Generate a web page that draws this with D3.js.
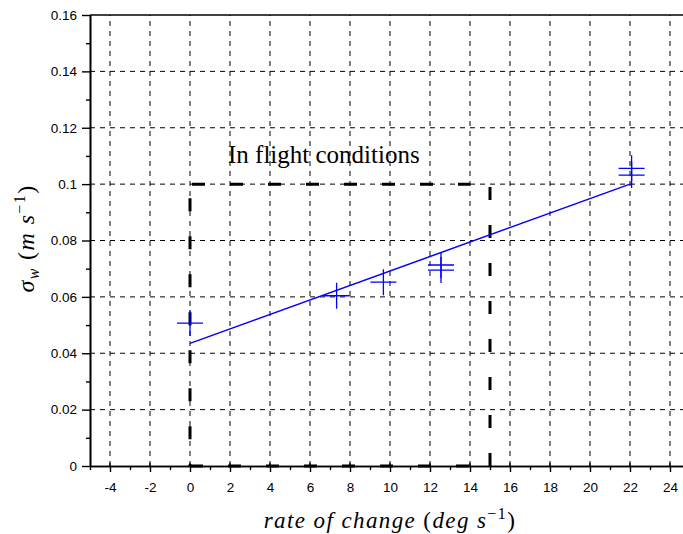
<!DOCTYPE html>
<html>
<head>
<meta charset="utf-8">
<script src="https://cdn.jsdelivr.net/npm/d3@7/dist/d3.min.js"></script>
<style>
  html, body { margin: 0; padding: 0; background: #fff; }
  svg { display: block; }
</style>
</head>
<body>
<svg id="chart" width="683" height="534"></svg>
<script>
// Measured turbulence intensity against rate of change
const rateOfChange = [0, 7.33, 9.67, 12.55, 12.55, 22.08, 22.08];
const sigmaW       = [0.0507, 0.0604, 0.0652, 0.0713, 0.0695, 0.1056, 0.1032];

// Linear fit through the measurements
const fitRate  = [0, 22];
const fitSigma = [0.0435, 0.1000];

// "In flight conditions" envelope
const envelopeRate  = [0, 14, 15];
const envelopeSigma = [0, 0.1];
const envelopeLabel = "In flight conditions";

// Axis ticks
const xTicks      = [-4, -2, 0, 2, 4, 6, 8, 10, 12, 14, 16, 18, 20, 22, 24];
const xTickLabels = ["-4", "-2", "0", "2", "4", "6", "8", "10", "12", "14", "16", "18", "20", "22", "24"];
const xMinorTicks = [-5, -3, -1, 1, 3, 5, 7, 9, 11, 13, 15, 17, 19, 21, 23];
const yTicks      = [0, 0.02, 0.04, 0.06, 0.08, 0.1, 0.12, 0.14, 0.16];
const yTickLabels = ["0", "0.02", "0.04", "0.06", "0.08", "0.1", "0.12", "0.14", "0.16"];
const yMinorTicks = [0.01, 0.03, 0.05, 0.07, 0.09, 0.11, 0.13, 0.15];

const svg = d3.select("#chart");
const plot = { left: 90, right: 690, top: 15, bottom: 466 };

const x = d3.scaleLinear().domain([-5, 25]).range([plot.left, plot.right]);
const y = d3.scaleLinear().domain([0, 0.16]).range([plot.bottom, plot.top]);

svg.append("rect").attr("width", 683).attr("height", 534).attr("fill", "#fff");

// Dashed grid
const grid = svg.append("g")
  .attr("stroke", "#000").attr("stroke-width", 1).attr("stroke-dasharray", "5,5");
grid.selectAll("line.vx").data(xTicks).join("line")
  .attr("x1", d => x(d)).attr("x2", d => x(d))
  .attr("y1", plot.bottom).attr("y2", plot.top);
grid.selectAll("line.hy").data(yTicks.filter(d => d > 0 && d < 0.16)).join("line")
  .attr("y1", d => y(d)).attr("y2", d => y(d))
  .attr("x1", plot.left).attr("x2", plot.right);

// Axes
const tickFont = "'Liberation Sans', Arial, sans-serif";

const xAxis = d3.axisBottom(x)
  .tickValues(xTicks)
  .tickFormat((d, i) => xTickLabels[i])
  .tickSizeInner(6).tickSizeOuter(0).tickPadding(10);
const xMinor = d3.axisBottom(x).tickValues(xMinorTicks).tickFormat("")
  .tickSizeInner(4).tickSizeOuter(0);

const yAxis = d3.axisLeft(y)
  .tickValues(yTicks)
  .tickFormat((d, i) => yTickLabels[i])
  .tickSizeInner(8).tickSizeOuter(0).tickPadding(5);
const yMinor = d3.axisLeft(y).tickValues(yMinorTicks).tickFormat("")
  .tickSizeInner(4).tickSizeOuter(0);

function styleAxis(g) {
  g.select(".domain").attr("stroke", "#000").attr("stroke-width", 1.6);
  g.selectAll(".tick line").attr("stroke", "#000").attr("stroke-width", 1.4);
  g.selectAll(".tick text")
    .attr("fill", "#000")
    .style("font-family", tickFont)
    .style("font-size", "13.5px");
}

svg.append("g").attr("transform", `translate(0,${plot.bottom})`).call(xMinor).call(styleAxis);
svg.append("g").attr("transform", `translate(0,${plot.bottom})`).call(xAxis).call(styleAxis);
svg.append("g").attr("transform", `translate(${plot.left},0)`).call(yMinor).call(styleAxis);
svg.append("g").attr("transform", `translate(${plot.left},0)`).call(yAxis).call(styleAxis);

// Major x ticks also poke a little into the plot
svg.append("g").selectAll("line").data(xTicks).join("line")
  .attr("x1", d => x(d)).attr("x2", d => x(d))
  .attr("y1", plot.bottom).attr("y2", plot.bottom - 3)
  .attr("stroke", "#000").attr("stroke-width", 1.4);

// Top frame line
svg.append("line")
  .attr("x1", plot.left).attr("x2", plot.right)
  .attr("y1", plot.top).attr("y2", plot.top)
  .attr("stroke", "#000").attr("stroke-width", 1.6);

// Envelope of in-flight conditions (thick dashed)
const env = svg.append("g")
  .attr("stroke", "#000").attr("stroke-width", 3).attr("fill", "none")
  .attr("stroke-dasharray", "13,25");
const [e0, e1, e2] = envelopeRate;
const [s0, s1] = envelopeSigma;
env.append("line") // left side, top to bottom
  .attr("x1", x(e0)).attr("x2", x(e0)).attr("y1", y(s1)).attr("y2", y(s0))
  .attr("stroke-dashoffset", 24);
env.append("line") // top edge
  .attr("x1", x(e0)).attr("x2", x(e1)).attr("y1", y(s1)).attr("y2", y(s1))
  .attr("stroke-dashoffset", 36);
env.append("line") // bottom edge
  .attr("x1", x(e0)).attr("x2", x(e1)).attr("y1", y(s0)).attr("y2", y(s0));
env.append("line") // right side, bottom to top
  .attr("x1", x(e2)).attr("x2", x(e2)).attr("y1", y(s0)).attr("y2", y(s1));

svg.append("text")
  .attr("x", 228).attr("y", 163)
  .style("font-family", "'Liberation Serif', 'Times New Roman', serif")
  .style("font-size", "25px")
  .attr("fill", "#000")
  .text(envelopeLabel);

// Fit line
svg.append("path")
  .datum(fitRate.map((r, i) => [r, fitSigma[i]]))
  .attr("fill", "none").attr("stroke", "#0000ff").attr("stroke-width", 1.5)
  .attr("d", d3.line().x(d => x(d[0])).y(d => y(d[1])));

// Measurement markers
svg.append("g").selectAll("path")
  .data(rateOfChange.map((r, i) => [r, sigmaW[i]]))
  .join("path")
  .attr("transform", d => `translate(${x(d[0])},${y(d[1])})`)
  .attr("d", "M-13,0H13M0,-13V13")
  .attr("stroke", "#0000ff").attr("stroke-width", 1.3).attr("fill", "none");

// Axis titles
const mathFont = "'Liberation Serif', 'Times New Roman', serif";

const xt = svg.append("text")
  .attr("x", (plot.left + plot.right) / 2).attr("y", 528)
  .attr("text-anchor", "middle")
  .style("font-family", mathFont).style("font-size", "23px")
  .style("letter-spacing", "1.4px")
  .attr("fill", "#000");
xt.append("tspan").style("font-style", "italic").text("rate of change ");
xt.append("tspan").text("(");
xt.append("tspan").style("font-style", "italic").text("deg s");
xt.append("tspan").attr("dy", -9).style("font-size", "16px").text("\u22121");
xt.append("tspan").attr("dy", 9).text(")");

const yt = svg.append("text")
  .attr("transform", `translate(34,${(plot.top + plot.bottom) / 2 - 2}) rotate(-90)`)
  .attr("text-anchor", "middle")
  .style("font-family", mathFont).style("font-size", "24px")
  .style("letter-spacing", "1.4px")
  .attr("fill", "#000");
yt.append("tspan").style("font-style", "italic").text("\u03c3");
yt.append("tspan").attr("dy", 5).style("font-size", "16px").style("font-style", "italic").text("w");
yt.append("tspan").attr("dy", -5).text(" (");
yt.append("tspan").style("font-style", "italic").text("m s");
yt.append("tspan").attr("dy", -9).style("font-size", "16px").text("\u22121");
yt.append("tspan").attr("dy", 9).text(")");
</script>
</body>
</html>
